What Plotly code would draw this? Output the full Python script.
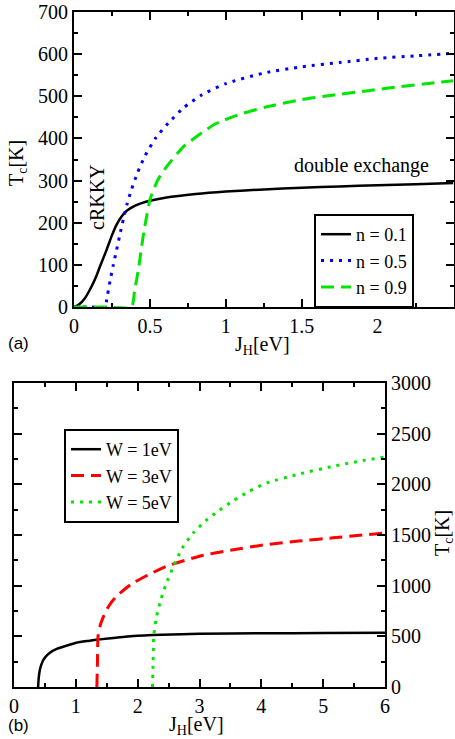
import plotly.graph_objects as go

# Panel (a): Tc vs J_H for different n
a_x_n01 = [0, 0.03, 0.072, 0.1, 0.127, 0.15, 0.171, 0.215, 0.25, 0.28, 0.31, 0.34, 0.37, 0.4, 0.45, 0.5, 0.6, 0.8, 1.0, 1.25, 1.5, 1.75, 2.0, 2.25, 2.5]
a_y_n01 = [0, 5, 21, 38, 57, 76, 96, 136, 170, 195, 213, 226, 234, 240, 247, 252, 259, 268, 274, 279, 283, 286, 289, 291, 294]
a_x_n05 = [0, 0.1, 0.205, 0.215, 0.237, 0.259, 0.281, 0.3, 0.325, 0.35, 0.38, 0.42, 0.47, 0.54, 0.62, 0.72, 0.84, 1.0, 1.25, 1.5, 1.75, 2.0, 2.25, 2.5]
a_y_n05 = [0, 0, 0, 17, 61, 100, 136, 168, 208, 245, 280, 320, 360, 402, 436, 472, 503, 530, 555, 570, 580, 590, 596, 602]
a_x_n09 = [0, 0.2, 0.378, 0.40, 0.424, 0.446, 0.46, 0.48, 0.5, 0.55, 0.61, 0.72, 0.84, 0.94, 1.1, 1.27, 1.5, 1.71, 1.95, 2.15, 2.35, 2.5]
a_y_n09 = [0, 0, 0, 41, 88, 144, 178, 218, 254, 300, 333, 380, 413, 436, 458, 475, 492, 503, 514, 523, 531, 537]

# Panel (b): Tc vs J_H for different W
b_x_w1 = [0.39, 0.4, 0.42, 0.46, 0.5, 0.58, 0.7, 0.85, 1.01, 1.2, 1.39, 1.65, 1.93, 2.4, 3.0, 4.0, 5.0, 6.0]
b_y_w1 = [0, 90, 174, 250, 290, 338, 378, 408, 437, 455, 470, 487, 503, 515, 525, 530, 533, 535]
b_x_w3 = [1.34, 1.35, 1.36, 1.4, 1.45, 1.5, 1.58, 1.66, 1.8, 1.93, 2.2, 2.47, 3.0, 3.5, 4.09, 4.6, 5.16, 6.0]
b_y_w3 = [0, 250, 503, 620, 700, 765, 840, 897, 970, 1028, 1115, 1192, 1291, 1350, 1406, 1440, 1472, 1521]
b_x_w5 = [2.24, 2.25, 2.26, 2.3, 2.36, 2.45, 2.58, 2.72, 2.9, 3.1, 3.3, 3.55, 3.8, 4.09, 4.6, 5.16, 5.6, 6.0]
b_y_w5 = [0, 250, 503, 680, 831, 1000, 1192, 1370, 1521, 1640, 1735, 1840, 1930, 2014, 2100, 2178, 2230, 2270]

SERIF = "Liberation Serif, Times New Roman, serif"

fig = go.Figure()

fig.add_trace(go.Scatter(x=a_x_n01, y=a_y_n01, mode="lines", name="n = 0.1",
                         line=dict(color="black", width=2.5, shape="spline", smoothing=0.6),
                         xaxis="x", yaxis="y", legend="legend"))
fig.add_trace(go.Scatter(x=a_x_n05, y=a_y_n05, mode="lines", name="n = 0.5",
                         line=dict(color="#0000ff", width=3, dash="3px,6px", shape="spline", smoothing=0.6),
                         xaxis="x", yaxis="y", legend="legend"))
fig.add_trace(go.Scatter(x=a_x_n09, y=a_y_n09, mode="lines", name="n = 0.9",
                         line=dict(color="#00e600", width=3, dash="13px,7px", shape="spline", smoothing=0.6),
                         xaxis="x", yaxis="y", legend="legend"))

fig.add_trace(go.Scatter(x=b_x_w1, y=b_y_w1, mode="lines", name="W = 1eV",
                         line=dict(color="black", width=2.5, shape="spline", smoothing=0.6),
                         xaxis="x2", yaxis="y2", legend="legend2"))
fig.add_trace(go.Scatter(x=b_x_w3, y=b_y_w3, mode="lines", name="W = 3eV",
                         line=dict(color="#ff0000", width=3, dash="13px,7px", shape="spline", smoothing=0.6),
                         xaxis="x2", yaxis="y2", legend="legend2"))
fig.add_trace(go.Scatter(x=b_x_w5, y=b_y_w5, mode="lines", name="W = 5eV",
                         line=dict(color="#00e600", width=3, dash="3px,6px", shape="spline", smoothing=0.6),
                         xaxis="x2", yaxis="y2", legend="legend2"))

W, H = 455, 739
def px(xp): return xp / W
def py(yp): return 1 - yp / H

axis_common = dict(showline=True, linecolor="black", linewidth=2, mirror="ticks",
                   ticks="inside", ticklen=8, tickwidth=1.5, tickcolor="black",
                   showgrid=False, zeroline=False, automargin=False,
                   tickfont=dict(family=SERIF, size=20, color="black"))

fig.update_layout(
    template="none",
    width=W, height=H, margin=dict(l=0, r=0, t=0, b=0, autoexpand=False),
    font=dict(family=SERIF, size=20, color="black"),
    paper_bgcolor="white", plot_bgcolor="white",
    xaxis=dict(domain=[px(74), px(453.5)], range=[0, 2.5], anchor="y",
               tickvals=[0, 0.5, 1, 1.5, 2], ticktext=["0", "0.5", "1", "1.5", "2"],
               minor=dict(ticks="inside", dtick=0.25, tick0=0, ticklen=4, tickcolor="black"),
               **axis_common),
    yaxis=dict(domain=[py(307), py(12)], range=[0, 700], anchor="x",
               dtick=100,
               minor=dict(ticks="inside", dtick=50, tick0=0, ticklen=4, tickcolor="black"),
               **axis_common),
    xaxis2=dict(domain=[px(14), px(385)], range=[0, 6], anchor="y2",
                dtick=1,
                minor=dict(ticks="inside", dtick=0.5, tick0=0, ticklen=4, tickcolor="black"),
                **axis_common),
    yaxis2=dict(domain=[py(687), py(383)], range=[0, 3000], anchor="x2", side="right",
                dtick=500,
                minor=dict(ticks="inside", dtick=250, tick0=0, ticklen=4, tickcolor="black"),
                **axis_common),
    legend=dict(x=px(314), y=py(214), xanchor="left", yanchor="top",
                bordercolor="black", borderwidth=2, bgcolor="white",
                font=dict(family=SERIF, size=18, color="black"),
                tracegroupgap=0, itemwidth=30),
    legend2=dict(x=px(64), y=py(429), xanchor="left", yanchor="top",
                 bordercolor="black", borderwidth=2, bgcolor="white",
                 font=dict(family=SERIF, size=18, color="black"),
                 tracegroupgap=0, itemwidth=30),
    showlegend=True,
)

ann_font = dict(family=SERIF, size=20, color="black")
annotations = [
    dict(text="T<sub>c</sub>[K]", x=px(17), y=py(163), textangle=-90, font=ann_font),
    dict(text="J<sub>H</sub>[eV]", x=px(262), y=py(345), font=ann_font),
    dict(text="cRKKY", x=px(97), y=py(197), textangle=-90, font=ann_font),
    dict(text="double exchange", x=px(361), y=py(166), font=ann_font),
    dict(text="(a)", x=px(18), y=py(343), font=dict(family="Liberation Sans", size=17, color="black")),
    dict(text="T<sub>c</sub>[K]", x=px(443), y=py(533), textangle=-90, font=ann_font),
    dict(text="J<sub>H</sub>[eV]", x=px(196), y=py(725), font=ann_font),
    dict(text="(b)", x=px(18), y=py(725), font=dict(family="Liberation Sans", size=17, color="black")),
]
for a in annotations:
    a.update(xref="paper", yref="paper", showarrow=False, xanchor="center", yanchor="middle")
fig.update_layout(annotations=annotations)

fig.write_html("out.html")
